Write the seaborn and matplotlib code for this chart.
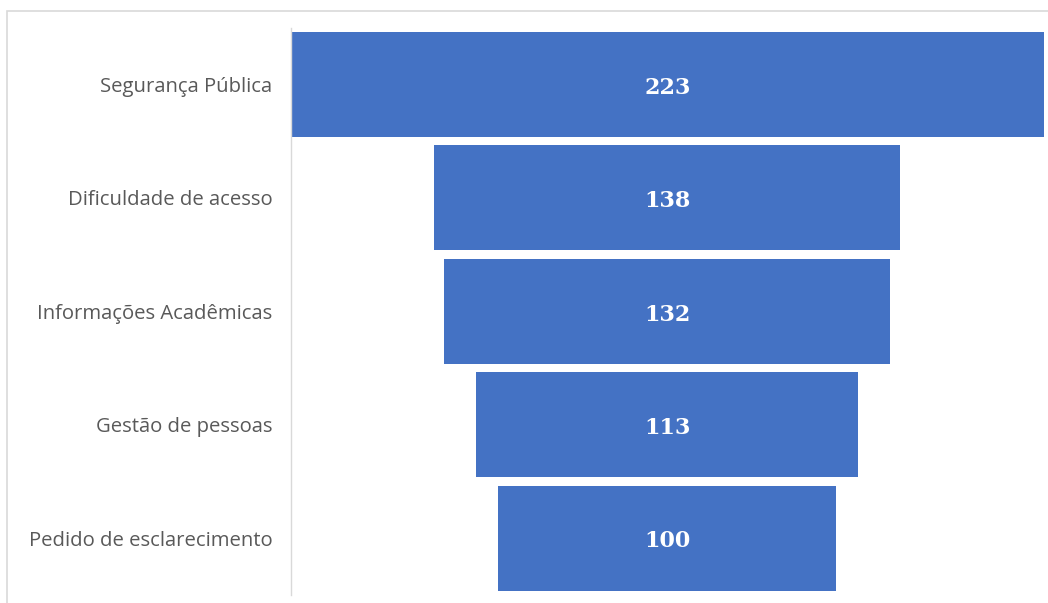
import matplotlib
matplotlib.use("Agg")
import matplotlib.pyplot as plt
from matplotlib.patches import Rectangle
import seaborn as sns
import pandas as pd

categories = [
    "Segurança Pública",
    "Dificuldade de acesso",
    "Informações Acadêmicas",
    "Gestão de pessoas",
    "Pedido de esclarecimento",
]
counts = [223, 138, 132, 113, 100]

bar_color = "#4472C4"
label_color = "#595959"

df = pd.DataFrame({"categoria": categories, "total": counts})

sns.set_theme(style="white")
plt.rcParams["font.family"] = ["Open Sans", "DejaVu Sans"]

fig = plt.figure(figsize=(10.48, 6.03), dpi=100)
W, H = 1048, 603
ax = fig.add_axes([290.5 / W, 1 - 594.7 / H, (1044 - 290.5) / W, (594.7 - 27.8) / H])

sns.barplot(data=df, x="total", y="categoria", orient="y", color=bar_color,
            saturation=1, width=0.926, linewidth=0, ax=ax)

# center each bar on zero to form the funnel
for patch in ax.patches:
    w = patch.get_width()
    patch.set_x(-w / 2)

ax.set_xlim(-max(counts) / 2, max(counts) / 2)
ax.set_ylim(len(categories) - 0.5, -0.5)

for i, v in enumerate(counts):
    ax.text(0, i + 0.03, f"{v}", ha="center", va="center", color="white",
            fontsize=16, fontweight="bold", family="DejaVu Serif")

ax.set_xlabel("")
ax.set_ylabel("")
ax.set_xticks([])
ax.tick_params(axis="y", length=0, pad=13, labelsize=14.6, labelcolor=label_color)
for side in ["top", "right", "bottom"]:
    ax.spines[side].set_visible(False)
ax.spines["left"].set_color("#d9d9d9")
ax.spines["left"].set_linewidth(1)

# chart-area frame
fig.patches.append(Rectangle((6.5 / W, -0.05), 1.1, 1 - 10.5 / H + 0.05,
                             transform=fig.transFigure, fill=False,
                             edgecolor="#d9d9d9", linewidth=1.2))

fig.savefig("out.png", dpi=100, facecolor="white")
